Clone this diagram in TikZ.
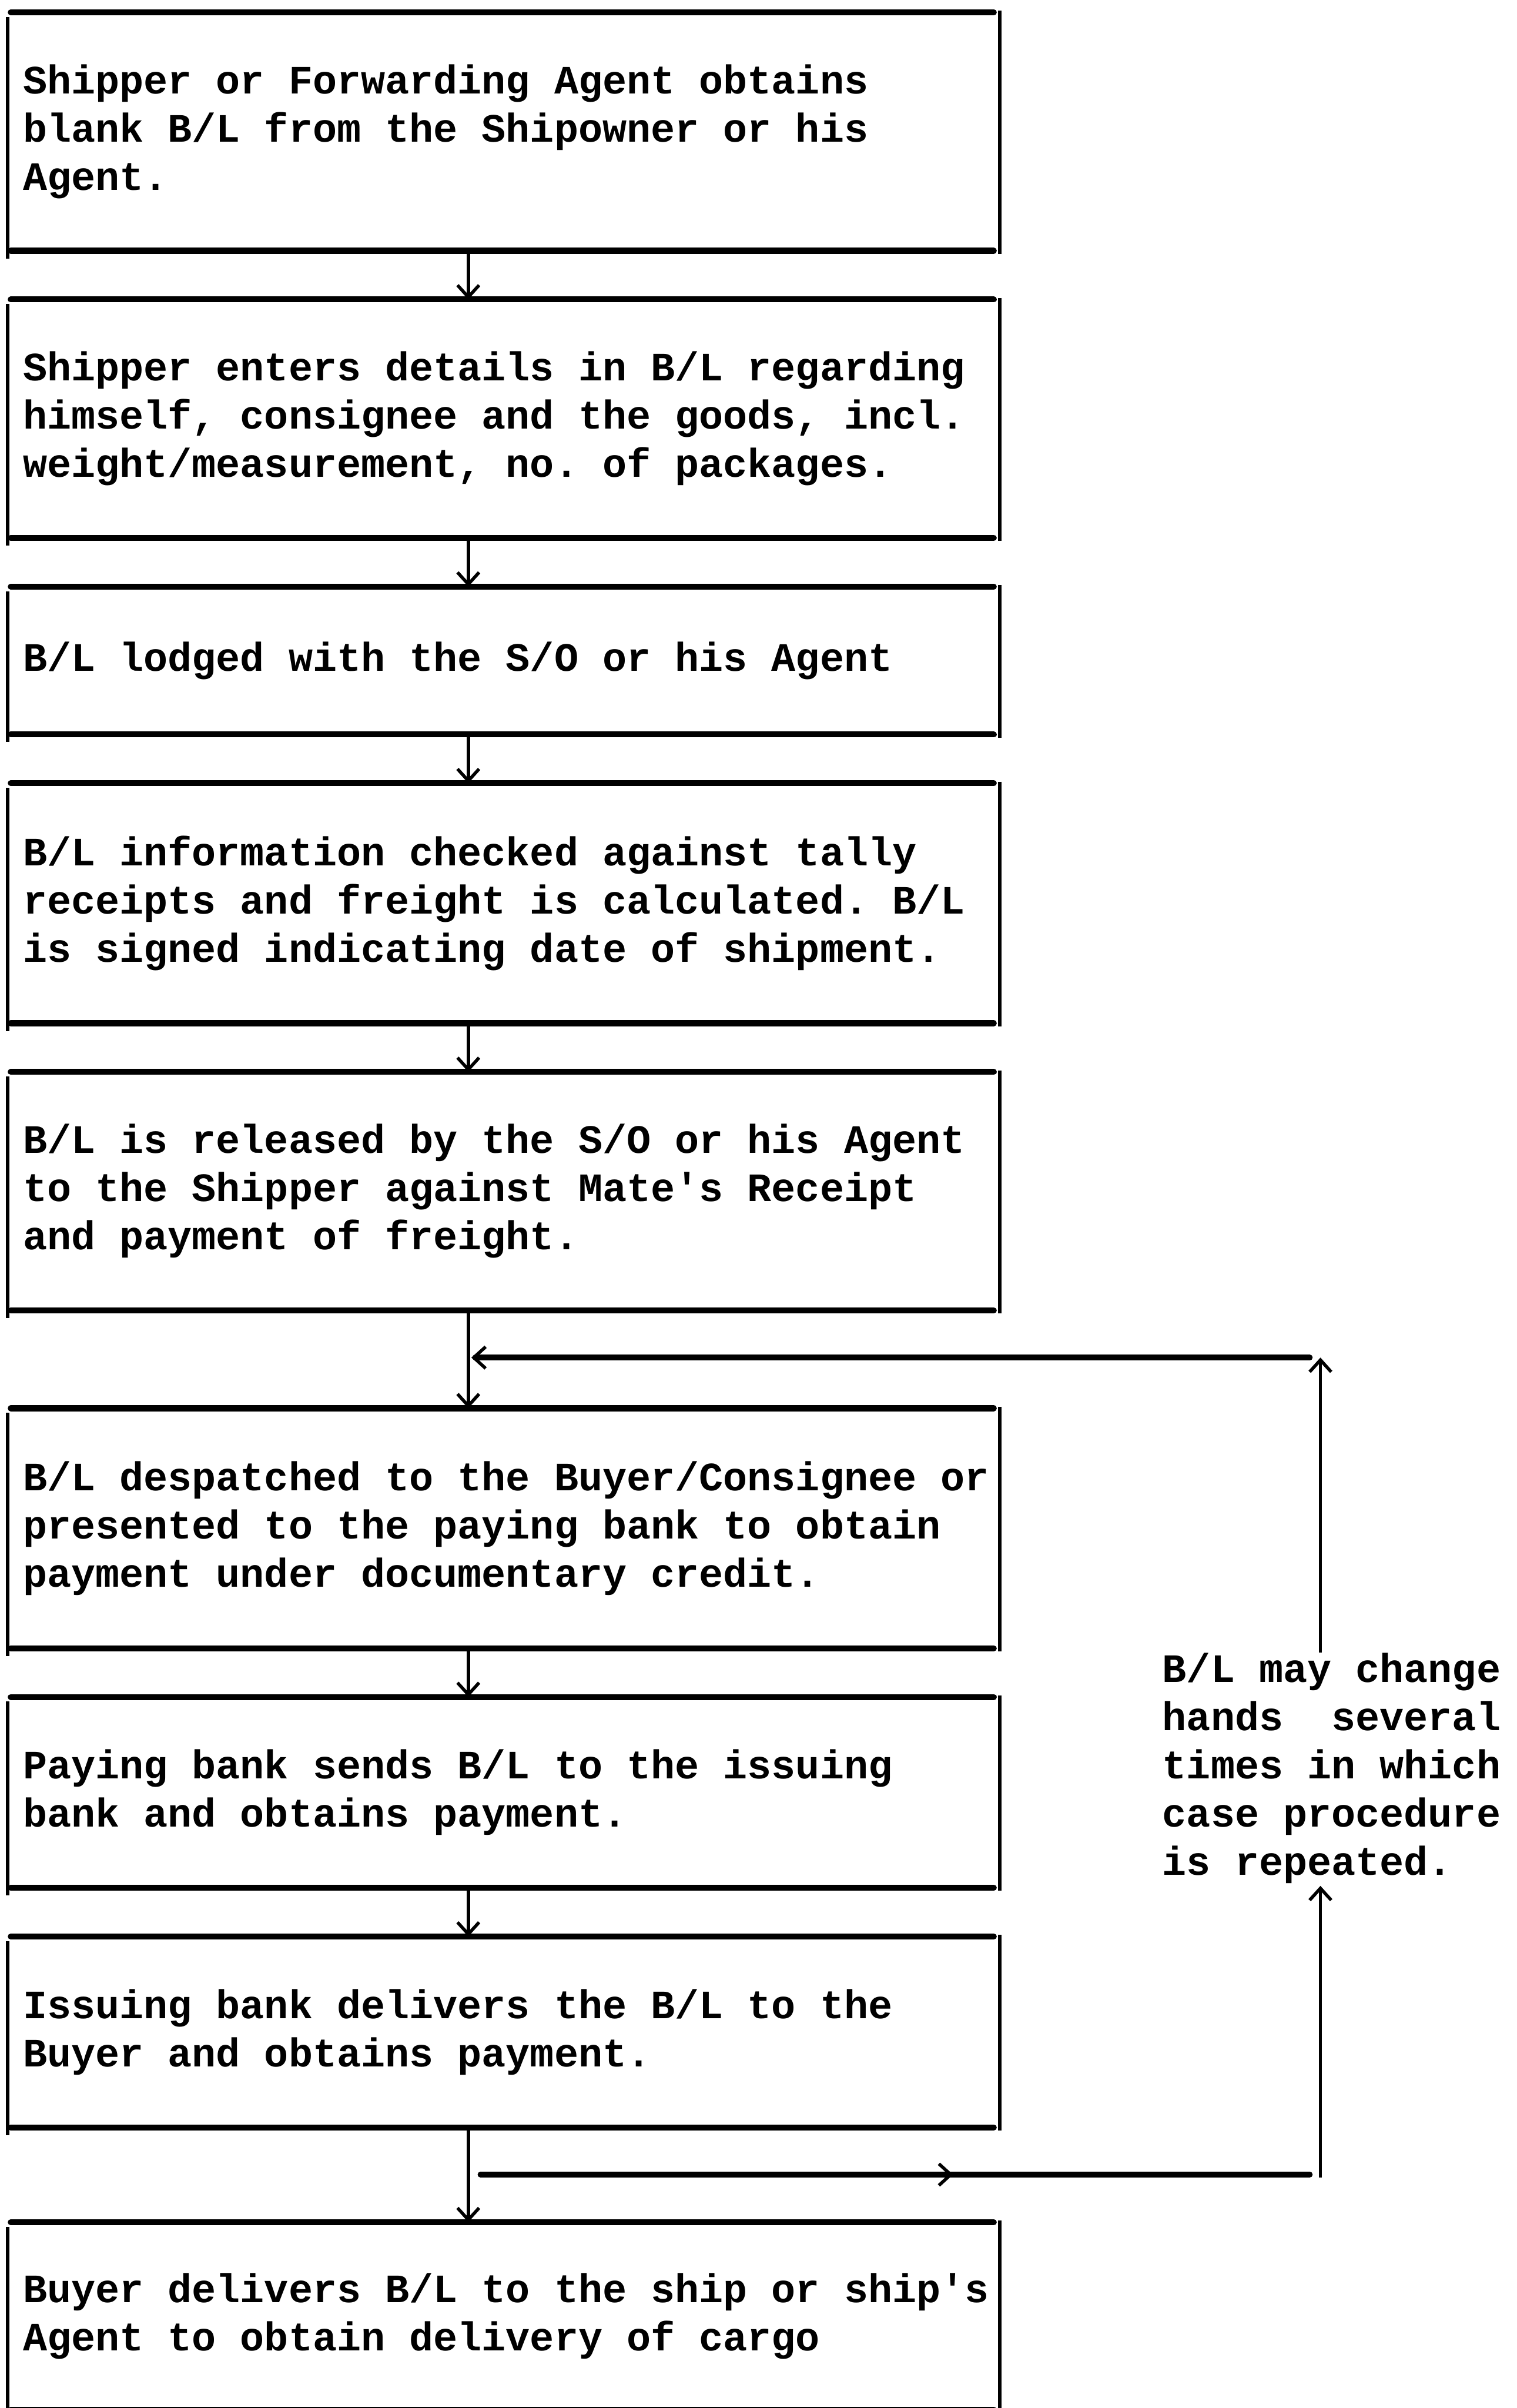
\documentclass[tikz,border=0pt]{standalone}
\usepackage{fontspec}
\newfontfamily\typewriter{Liberation Mono}
\usetikzlibrary{arrows.meta,decorations.markings}

% straight apostrophe of the typewriter face
\newcommand\apos{\char39\relax}

% one stage of the procedure: name, top, bottom, text
\newcommand\flowstage[4]{%
  \node[frame, minimum height={(#3-#2)*0.05cm}] (#1) at (5,#2) {};
  \node[steptext] (#1txt) at ([xshift=0.49cm]#1.west) {#4};
  \draw[rule] ([xshift=0.1cm]#1.north west) -- ([xshift=-0.2cm]#1.north east);
  \draw[rule] ([xshift=0.1cm]#1.south west) -- ([xshift=-0.2cm]#1.south east);
  \draw[side] ([yshift=-0.15cm]#1.north west) -- ([yshift=-0.25cm]#1.south west);
  \draw[side] ([yshift=0.05cm]#1.north east) -- ([yshift=-0.1cm]#1.south east);
}

\begin{document}
\frenchspacing
\begin{tikzpicture}[x=0.05cm,y=-0.05cm,
  frame/.style={rectangle, inner sep=0pt, minimum width={646*0.05cm}, anchor=north west},
  steptext/.style={anchor=west, inner sep=0pt, align=left,
    font=\typewriter\bfseries\fontsize{37.3}{44.6}\selectfont\frenchspacing},
  rule/.style={line width=5.5pt, line cap=round},
  side/.style={line width=3.2pt},
  barb/.tip={Straight Barb[length=11pt,width=20pt,line width=3pt]},
  flow/.style={side, -barb},
  midtip/.style={postaction={decorate}, decoration={markings,
    mark=at position 0.57 with {\arrow{barb}}}}
]
\useasboundingbox (0,0) rectangle (988,1568);

\flowstage{b1}{8}{163}{Shipper or Forwarding Agent obtains\\blank B/L from the Shipowner or his\\Agent.}
\flowstage{b2}{195}{350}{Shipper enters details in B/L regarding\\himself, consignee and the goods, incl.\\weight/measurement, no. of packages.}
\flowstage{b3}{382}{478}{B/L lodged with the S/O or his Agent}
\flowstage{b4}{510}{666}{B/L information checked against tally\\receipts and freight is calculated. B/L\\is signed indicating date of shipment.}
\flowstage{b5}{698}{853}{B/L is released by the S/O or his Agent\\to the Shipper against Mate\apos s Receipt\\and payment of freight.}
\flowstage{b6}{917}{1073}{B/L despatched to the Buyer/Consignee or\\presented to the paying bank to obtain\\payment under documentary credit.}
\flowstage{b7}{1105}{1229}{Paying bank sends B/L to the issuing\\bank and obtains payment.}
\flowstage{b8}{1261}{1385}{Issuing bank delivers the B/L to the\\Buyer and obtains payment.}
\flowstage{b9}{1447}{1569}{Buyer delivers B/L to the ship or ship\apos s\\Agent to obtain delivery of cargo}

% main line of the procedure
\coordinate (axis) at (305,0);
\foreach \a/\b in {b1/b2,b2/b3,b3/b4,b4/b5,b5/b6,b6/b7,b7/b8,b8/b9}
  \draw[flow] (\a.south -| axis) -- (\b.north -| axis);

% repetition loop
\node[steptext] (note) at (757,1151.5) {B/L may change\\hands\ \ several\\times in which\\case procedure\\is repeated.};
\coordinate (loopTop) at (860,884);
\coordinate (loopBot) at (860,1416);
\coordinate (noteUp) at (860,1076);
\coordinate (noteDown) at (860,1228);

\draw[flow] (noteUp) -- (loopTop);
\draw[rule, -barb] ([xshift=-0.35cm]loopTop) -- ([xshift=0.1cm]loopTop -| axis);
\draw[rule, midtip] ([xshift=0.4cm]loopBot -| axis) -- ([xshift=-0.35cm]loopBot);
\draw[flow] ([yshift=-0.1cm]loopBot) -- (noteDown);
\end{tikzpicture}
\end{document}
